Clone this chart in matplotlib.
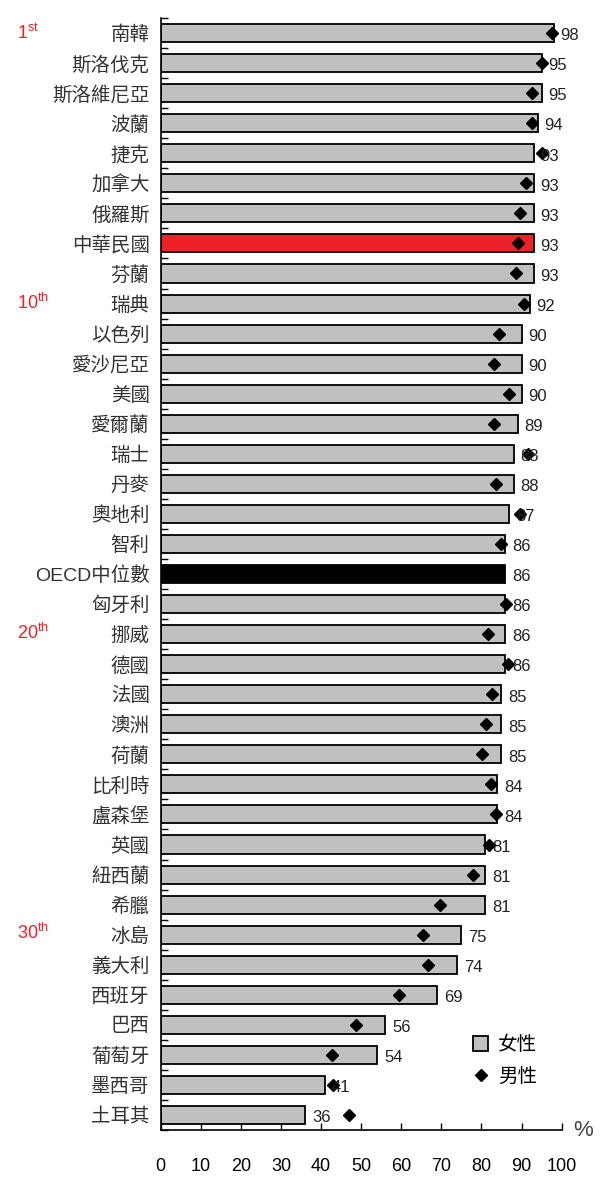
import matplotlib.pyplot as plt
import numpy as np

plt.rcParams['font.family'] = ['Liberation Sans', 'Noto Sans CJK TC', 'DejaVu Sans']
plt.rcParams['mathtext.fontset'] = 'custom'
plt.rcParams['mathtext.rm'] = 'Liberation Sans'

countries = ['南韓', '斯洛伐克', '斯洛維尼亞', '波蘭', '捷克', '加拿大', '俄羅斯',
             '中華民國', '芬蘭', '瑞典', '以色列', '愛沙尼亞', '美國', '愛爾蘭',
             '瑞士', '丹麥', '奧地利', '智利', 'OECD中位數', '匈牙利', '挪威', '德國',
             '法國', '澳洲', '荷蘭', '比利時', '盧森堡', '英國', '紐西蘭', '希臘',
             '冰島', '義大利', '西班牙', '巴西', '葡萄牙', '墨西哥', '土耳其']
female = [98, 95, 95, 94, 93, 93, 93, 93, 93, 92, 90, 90, 90, 89, 88, 88, 87, 86,
          86, 86, 86, 86, 85, 85, 85, 84, 84, 81, 81, 81, 75, 74, 69, 56, 54, 41, 36]
male = [97.5, 95, 92.5, 92.7, 95.2, 91, 89.7, 89.2, 88.5, 90.5, 84.5, 83.2, 87,
        83.2, 91.7, 83.7, 89.7, 85, np.nan, 86.2, 81.7, 86.7, 82.7, 81.2, 80.2,
        82.5, 83.7, 82, 78, 69.7, 65.5, 66.7, 59.5, 48.7, 42.7, 43, 47]
ranks = {0: ('1', 'st'), 9: ('10', 'th'), 20: ('20', 'th'), 30: ('30', 'th')}

n = len(countries)
y = np.arange(n)
colors = ['#c0c0c0'] * n
colors[countries.index('中華民國')] = '#ee2028'
colors[countries.index('OECD中位數')] = '#000000'

fig = plt.figure(figsize=(6, 11.86), dpi=100)
ax = fig.add_axes([0.268, 0.0472, 0.668, 0.9376])

bars = ax.barh(y, female, height=0.6, color=colors, edgecolor='#000000',
               linewidth=1.3, label='女性', zorder=2)
pts, = ax.plot(male, y, 'D', color='black', markersize=6.5, label='男性', zorder=3)

for yi, v in zip(y, female):
    ax.annotate(str(v), (v, yi), xytext=(5, -2), textcoords='offset points',
                va='center', ha='left', fontsize=12, color='#222222')

ax.set_xlim(0, 100)
ax.set_ylim(n - 0.5, -0.5)
ax.set_xticks(np.arange(0, 101, 10))
ax.tick_params(axis='x', direction='in', length=5, width=1, pad=20,
               labelsize=13, colors='black')
ax.set_yticks(np.arange(-0.5, n, 1))
ax.set_yticklabels([])
ax.tick_params(axis='y', direction='in', length=5, width=1)
ax.set_yticks(y, minor=True)
ax.set_yticklabels(countries, minor=True, fontsize=14, color='#333333')
ax.tick_params(axis='y', which='minor', length=0, pad=8)

for s in ['top', 'right']:
    ax.spines[s].set_visible(False)
ax.spines['left'].set_linewidth(1.2)
ax.spines['bottom'].set_linewidth(1.2)

for idx, (num, suf) in ranks.items():
    fig.text(0.028, 1 - (18 + 30 * idx + 15) / 1186, num + r'$^{\mathrm{' + suf + '}}$',
             color='#ee2028', fontsize=13, va='center', ha='left')

fig.text(0.955, 1 - 1130 / 1186, '%', fontsize=16, color='#444444',
         va='center', ha='left')

fig.legend([bars, pts], ['女性', '男性'], loc='upper left',
           bbox_to_anchor=(0.775, 1 - 1028 / 1186), frameon=False,
           fontsize=14, handlelength=0.8, handleheight=0.8, handletextpad=0.5,
           labelspacing=0.7, borderaxespad=0)

fig.savefig('out.png', dpi=100)
